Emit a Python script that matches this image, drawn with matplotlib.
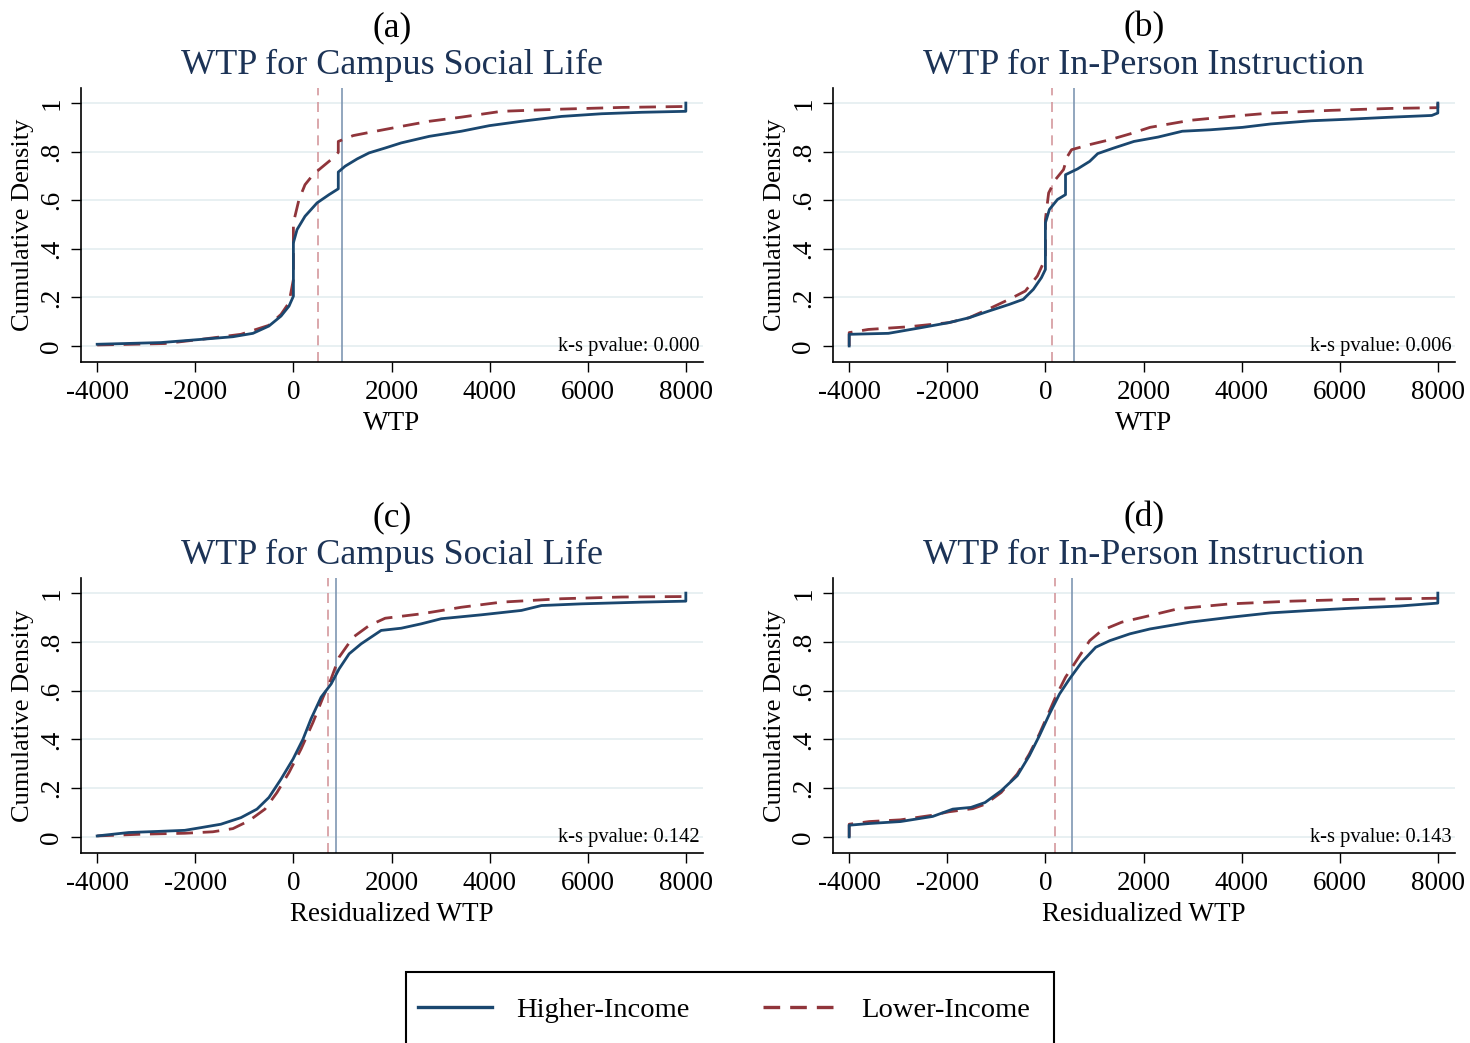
import matplotlib
matplotlib.use("Agg")
import matplotlib.pyplot as plt
from matplotlib.patches import Rectangle
from matplotlib.lines import Line2D

plt.rcParams['font.family'] = ['Liberation Serif', 'DejaVu Serif']

NAVY = '#1a476f'
MAROON = '#90353b'

# panel (a): WTP for campus social life
a_hi_x = [-4000, -2700, -1890, -1234, -825, -500, -253, -90, 0, 0, 74, 237, 482, 727, 915, 915,
          1054, 1299, 1544, 1871, 2198, 2770, 3423, 3995, 4649, 5466, 6283, 7100, 8000, 8000]
a_hi_y = [0.007, 0.014, 0.027, 0.038, 0.052, 0.082, 0.123, 0.164, 0.205, 0.425, 0.479, 0.534, 0.589, 0.623, 0.647, 0.716,
          0.740, 0.770, 0.795, 0.815, 0.836, 0.863, 0.884, 0.907, 0.925, 0.945, 0.956, 0.962, 0.966, 1.0]
a_lo_x = [-4000, -2623, -1890, -1070, -500, -253, -90, 0, 0, 114, 237, 400, 564, 809, 915, 915,
          1217, 1544, 2198, 2770, 3423, 4240, 5466, 6691, 8000, 8000]
a_lo_y = [0.004, 0.010, 0.027, 0.048, 0.085, 0.130, 0.178, 0.274, 0.507, 0.603, 0.664, 0.705, 0.733, 0.774, 0.797, 0.842,
          0.866, 0.879, 0.904, 0.925, 0.942, 0.966, 0.975, 0.982, 0.986, 1.0]

# panel (b): WTP for in-person instruction
b_hi_x = [-4000, -4000, -3200, -2544, -1969, -1559, -1149, -738, -451, -246, -82, 0, 0, 82, 246, 410, 410,
          656, 903, 1067, 1395, 1805, 2297, 2790, 3364, 4020, 4595, 5415, 6236, 7056, 7877, 8000, 8000]
b_hi_y = [0.0, 0.048, 0.052, 0.075, 0.096, 0.116, 0.144, 0.171, 0.192, 0.233, 0.281, 0.315, 0.507, 0.562, 0.603, 0.623, 0.705,
          0.729, 0.760, 0.792, 0.815, 0.842, 0.860, 0.884, 0.890, 0.900, 0.914, 0.927, 0.934, 0.942, 0.949, 0.959, 1.0]
b_lo_x = [-4000, -4000, -3610, -2790, -1969, -1559, -1149, -738, -410, -164, -41, 0, 0, 66, 205, 369, 451, 533,
          903, 1313, 1723, 2133, 2954, 3774, 4595, 5825, 7056, 8000, 8000]
b_lo_y = [0.0, 0.055, 0.068, 0.079, 0.096, 0.116, 0.153, 0.192, 0.226, 0.288, 0.342, 0.360, 0.521, 0.630, 0.685, 0.726, 0.781, 0.808,
          0.829, 0.849, 0.873, 0.900, 0.929, 0.945, 0.959, 0.970, 0.978, 0.981, 1.0]

# panel (c): residualized WTP, campus social life
c_hi_x = [-4000, -3358, -2704, -2214, -1887, -1479, -1070, -743, -498, -253, -8, 196, 359, 564, 768, 931,
          1136, 1381, 1789, 2198, 2606, 3015, 3832, 4649, 5057, 5874, 7100, 8000, 8000]
c_hi_y = [0.004, 0.018, 0.023, 0.027, 0.038, 0.052, 0.079, 0.114, 0.162, 0.237, 0.319, 0.401, 0.484, 0.573, 0.627, 0.689,
          0.751, 0.792, 0.847, 0.856, 0.874, 0.895, 0.911, 0.929, 0.949, 0.956, 0.963, 0.967, 1.0]
c_lo_x = [-4000, -3120, -2214, -1642, -1234, -907, -580, -335, -90, 155, 400, 605, 768, 931,
          1217, 1544, 1871, 2606, 3423, 4240, 5466, 6691, 8000, 8000]
c_lo_y = [0.004, 0.011, 0.015, 0.021, 0.034, 0.066, 0.114, 0.182, 0.264, 0.360, 0.470, 0.573, 0.648, 0.737,
          0.819, 0.867, 0.897, 0.915, 0.942, 0.963, 0.977, 0.984, 0.986, 1.0]

# panel (d): residualized WTP, in-person instruction
d_hi_x = [-4000, -4000, -3590, -2954, -2297, -1887, -1518, -1231, -903, -574, -328, -123, 82, 287, 492, 738,
          1026, 1313, 1723, 2133, 2954, 3774, 4595, 5415, 6236, 7220, 8000, 8000]
d_hi_y = [0.0, 0.048, 0.055, 0.063, 0.084, 0.114, 0.121, 0.141, 0.189, 0.251, 0.333, 0.415, 0.504, 0.586, 0.648, 0.716,
          0.778, 0.805, 0.833, 0.853, 0.881, 0.901, 0.919, 0.929, 0.938, 0.947, 0.959, 1.0]
d_lo_x = [-4000, -4000, -3590, -2954, -2297, -1969, -1477, -1231, -903, -574, -328, -123, 41, 205, 410, 656,
          903, 1149, 1559, 2133, 2708, 3774, 5005, 6236, 8000, 8000]
d_lo_y = [0.0, 0.052, 0.063, 0.070, 0.089, 0.103, 0.116, 0.134, 0.182, 0.258, 0.340, 0.422, 0.497, 0.573, 0.655, 0.730,
          0.805, 0.847, 0.881, 0.908, 0.936, 0.956, 0.967, 0.974, 0.979, 1.0]

# vertical reference lines (lower, higher)
ref_lines = [(507, 989), (139, 590), (711, 874), (205, 550)]
letters = ['(a)', '(b)', '(c)', '(d)']
titles = ['WTP for Campus Social Life', 'WTP for In-Person Instruction',
          'WTP for Campus Social Life', 'WTP for In-Person Instruction']
xlabels = ['WTP', 'WTP', 'Residualized WTP', 'Residualized WTP']
pvalues = ['0.000', '0.006', '0.142', '0.143']
xticks = [-4000, -2000, 0, 2000, 4000, 6000, 8000]
yticks = [0, 0.2, 0.4, 0.6, 0.8, 1]
ytick_labels = ['0', '.2', '.4', '.6', '.8', '1']

series = [(a_hi_x, a_hi_y, a_lo_x, a_lo_y), (b_hi_x, b_hi_y, b_lo_x, b_lo_y),
          (c_hi_x, c_hi_y, c_lo_x, c_lo_y), (d_hi_x, d_hi_y, d_lo_x, d_lo_y)]

W, H = 1470, 1043
fig = plt.figure(figsize=(W / 100, H / 100), dpi=100)

# axes boxes in pixels: left, top, right, bottom
boxes = [(81, 88, 703, 362), (833, 88, 1455, 362),
         (81, 578, 703, 853), (833, 578, 1455, 853)]

for i, (l, t, r, b) in enumerate(boxes):
    ax = fig.add_axes([l / W, 1 - b / H, (r - l) / W, (b - t) / H])
    hx, hy, lx, ly = series[i]
    for yv in yticks:
        ax.axhline(yv, color='#e6eff1', lw=1.3, zorder=0)
    lo_ref, hi_ref = ref_lines[i]
    ax.axvline(lo_ref, color='#d4989d', lw=1.2, dashes=(6, 4), zorder=1)
    ax.axvline(hi_ref, color='#7f97b3', lw=1.2, zorder=1)
    ax.plot(hx, hy, color=NAVY, lw=2.0, zorder=3)
    ax.plot(lx, ly, color=MAROON, lw=2.0, dashes=(6, 3.5), zorder=2)

    ax.set_xlim(-4330, 8350)
    ax.set_ylim(-0.066, 1.062)
    ax.set_xticks(xticks)
    ax.set_xticklabels([str(v) for v in xticks], fontsize=19.5)
    ax.set_yticks(yticks)
    ax.set_yticklabels(ytick_labels, fontsize=19.5, rotation=90, va='center')
    ax.tick_params(axis='both', direction='out', length=7, width=1.0, color='black')
    ax.tick_params(axis='x', pad=6)
    ax.tick_params(axis='y', pad=5)
    for s in ['top', 'right']:
        ax.spines[s].set_visible(False)
    for s in ['left', 'bottom']:
        ax.spines[s].set_linewidth(1.2)
    ax.set_xlabel(xlabels[i], fontsize=19.5, labelpad=4)
    ax.set_ylabel('Cumulative Density', fontsize=19, labelpad=4)
    ax.text(0.995, 0.055, 'k-s pvalue: ' + pvalues[i], transform=ax.transAxes,
            ha='right', va='center', fontsize=14.8)

    cx = (l + r) / 2 / W
    fig.text(cx, 1 - (t - 60) / H, letters[i], ha='center', va='center', fontsize=25.5, color='black')
    fig.text(cx, 1 - (t - 23) / H, titles[i], ha='center', va='center', fontsize=26, color='#1c3356')

# legend box
fig.patches.append(Rectangle((406 / W, 1 - 1046 / H), (1054 - 406) / W, (1046 - 972) / H,
                             transform=fig.transFigure, fill=False, edgecolor='black', lw=1.5))
handles = [Line2D([], [], color=NAVY, lw=2.4),
           Line2D([], [], color=MAROON, lw=2.4, dashes=(5, 3))]
fig.legend(handles, ['Higher-Income', 'Lower-Income'], loc='center',
           bbox_to_anchor=(724 / W, 1 - 1010 / H), ncol=2, frameon=False, fontsize=20.5,
           handlelength=2.6, handletextpad=0.85, columnspacing=2.6)

fig.savefig('out.png', dpi=100)
